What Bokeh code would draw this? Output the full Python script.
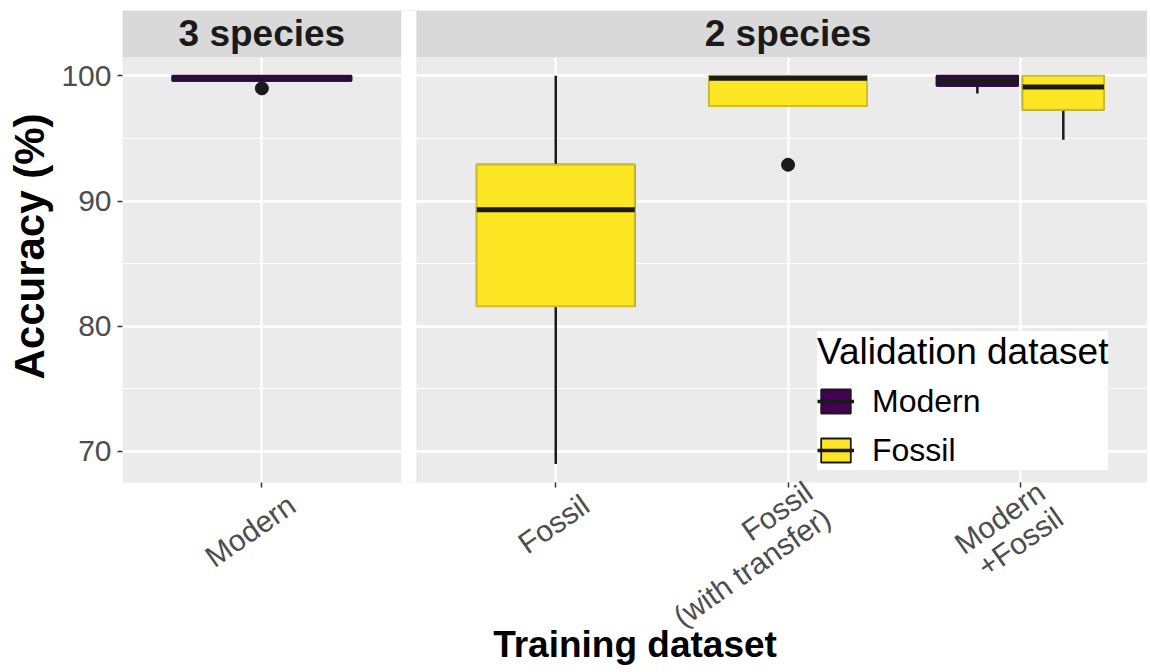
import math
from bokeh.plotting import figure
from bokeh.models import (ColumnDataSource, FixedTicker, BoxAnnotation, Label,
                          Legend, LegendItem, LinearAxis)
from bokeh.embed import file_html
from bokeh.resources import INLINE

# ---------------- data ----------------
panels = ["3 species", "2 species"]
panel_training = [["Modern"], ["Fossil", "Fossil\n(with transfer)", "Modern\n+Fossil"]]

box_panel = ["3 species", "2 species", "2 species", "2 species", "2 species"]
box_training = ["Modern", "Fossil", "Fossil\n(with transfer)", "Modern\n+Fossil", "Modern\n+Fossil"]
box_validation = ["Modern", "Fossil", "Fossil", "Modern", "Fossil"]
box_low = [99.6, 69.0, 97.6, 98.6, 94.9]
box_q1 = [99.6, 81.6, 97.6, 99.2, 97.3]
box_median = [99.8, 89.3, 99.8, 99.6, 99.1]
box_q3 = [100.0, 92.9, 100.0, 100.0, 100.0]
box_high = [100.0, 100.0, 100.0, 100.0, 100.0]

out_panel = ["3 species", "2 species"]
out_training = ["Modern", "Fossil\n(with transfer)"]
out_validation = ["Modern", "Fossil"]
out_value = [99.0, 92.9]

validations = ["Modern", "Fossil"]
y_ticks = [70, 80, 90, 100]
y_minor = [75, 85, 95]

# ---------------- styling / layout constants ----------------
FONT = "Liberation Sans"
fill_col = {"Modern": "#440154", "Fossil": "#FDE725"}
line_col = {"Modern": "#2b0a3d", "Fossil": "#cfbf2c"}
single_width = {"3 species": 0.77, "2 species": 0.68}
dodge_width = 0.35
dodge_offset = 0.185
EXPAND = 0.6
GAP = 0.065
X_START = 0.4
FRAME_W, FRAME_H = 1025, 472
PX_PER_X = 232.3
Y_START, Y_END = 67.52, 105.22
STRIP_BOTTOM = 101.48
PX_PER_Y = FRAME_H / (Y_END - Y_START)
LABEL_SHIFT = 30 / PX_PER_X   # rotated labels sit a little right of their tick

# category positions on a continuous axis (facet-like)
pos = {}
panel_extent = {}
edge = X_START
for pname, cats in zip(panels, panel_training):
    for i, c in enumerate(cats):
        pos[(pname, c)] = edge + EXPAND + i
    end = edge + EXPAND + (len(cats) - 1) + EXPAND
    panel_extent[pname] = (edge, end)
    edge = end + GAP
X_END = X_START + FRAME_W / PX_PER_X

# box x / width (dodged when two validation sets share a training set)
groups = {}
for i in range(len(box_training)):
    groups.setdefault((box_panel[i], box_training[i]), []).append(i)
box_x = [0.0] * len(box_training)
box_w = [0.0] * len(box_training)
for key, idx in groups.items():
    if len(idx) == 1:
        box_x[idx[0]] = pos[key]
        box_w[idx[0]] = single_width[key[0]]
    else:
        n = len(idx)
        for k, i in enumerate(idx):
            box_x[i] = pos[key] + (k - (n - 1) / 2) * 2 * dodge_offset
            box_w[i] = dodge_width

p = figure(frame_width=FRAME_W, frame_height=FRAME_H,
           x_range=(X_START, X_END), y_range=(Y_START, Y_END),
           output_backend="svg", toolbar_location=None,
           min_border_left=122, min_border_top=10, min_border_right=0,
           min_border_bottom=0,
           background_fill_color="#ebebeb", border_fill_color="white",
           outline_line_color=None)

# grid
xt = [pos[k] for k in pos]
p.xgrid.ticker = FixedTicker(ticks=xt)
p.ygrid.ticker = FixedTicker(ticks=y_ticks, minor_ticks=y_minor)
p.grid.grid_line_color = "white"
p.grid.grid_line_width = 2.4
p.ygrid.minor_grid_line_color = "white"
p.ygrid.minor_grid_line_width = 1.2

# strips and panel gap
p.add_layout(BoxAnnotation(bottom=STRIP_BOTTOM, fill_color="#d9d9d9", fill_alpha=1,
                           line_color=None, level="underlay"))
names = list(panel_extent)
for a, b in zip(names[:-1], names[1:]):
    p.add_layout(BoxAnnotation(left=panel_extent[a][1], right=panel_extent[b][0],
                               fill_color="white", fill_alpha=1, line_color=None,
                               level="underlay"))
for pname, cats in zip(panels, panel_training):
    cx = (pos[(pname, cats[0])] + pos[(pname, cats[-1])]) / 2
    p.add_layout(Label(x=cx, y=(STRIP_BOTTOM + Y_END) / 2, text=pname,
                       text_align="center", text_baseline="middle",
                       text_font=FONT, text_font_style="bold",
                       text_font_size="37px", text_color="#1a1a1a"))

# boxes
leg_items = []
for v in validations:
    idx = [i for i in range(len(box_validation)) if box_validation[i] == v]
    # very flat boxes: the median line takes the outline colour (as drawn in the source)
    med_color = ["#1a1a1a" if (box_q3[i] - box_q1[i]) * PX_PER_Y > 8 else line_col[v] for i in idx]
    src = ColumnDataSource(dict(
        x=[box_x[i] for i in idx], w=[box_w[i] for i in idx],
        x0=[box_x[i] - box_w[i] / 2 for i in idx], x1=[box_x[i] + box_w[i] / 2 for i in idx],
        low=[box_low[i] for i in idx], q1=[box_q1[i] for i in idx],
        med=[box_median[i] for i in idx], q3=[box_q3[i] for i in idx],
        high=[box_high[i] for i in idx], mc=med_color))
    # legend-key styling (black outline, as in a boxplot key); hidden under the real boxes
    kb = p.vbar(x="x", width="w", top="q3", bottom="q1", source=src,
                fill_color=fill_col[v], line_color="#1a1a1a", line_width=1.8)
    km = p.segment(x0="x0", x1="x1", y0="med", y1="med", source=src,
                   line_color="#1a1a1a", line_width=3.5)
    leg_items.append(LegendItem(label=v, renderers=[kb, km]))

    p.segment(x0="x", x1="x", y0="q3", y1="high", source=src, line_color="#1a1a1a", line_width=2.5)
    p.segment(x0="x", x1="x", y0="low", y1="q1", source=src, line_color="#1a1a1a", line_width=2.5)
    p.vbar(x="x", width="w", top="q3", bottom="q1", source=src,
           fill_color=fill_col[v], line_color=line_col[v], line_width=2)
    p.segment(x0="x0", x1="x1", y0="med", y1="med", source=src,
              line_color="mc", line_width=5)

ox = [pos[(out_panel[i], out_training[i])] for i in range(len(out_value))]
p.scatter(x=ox, y=out_value, size=13, color="#1a1a1a")

# axes: tick marks on the main x axis, category labels on a second (tickless) axis
p.xaxis.ticker = FixedTicker(ticks=xt)
p.xaxis.major_label_overrides = {x: "" for x in xt}
p.xaxis.major_label_text_font_size = "1px"
p.xaxis.major_label_standoff = 0
p.yaxis.ticker = FixedTicker(ticks=y_ticks)

lab_ticks = [pos[k] + LABEL_SHIFT for k in pos]
lab_axis = LinearAxis(ticker=FixedTicker(ticks=lab_ticks),
                      major_label_overrides={pos[k] + LABEL_SHIFT: k[1] for k in pos},
                      major_label_orientation=math.radians(35),
                      major_tick_in=0, major_tick_out=0, major_label_standoff=14)
p.add_layout(lab_axis, "below")

for ax in (p.xaxis[0], p.yaxis[0], lab_axis):
    ax.axis_line_color = None
    ax.major_tick_in = 0
    ax.minor_tick_line_color = None
    ax.major_label_text_font = FONT
    ax.major_label_text_color = "#4d4d4d"
    ax.axis_label_text_font = FONT
    ax.axis_label_text_font_style = "bold"
    ax.axis_label_text_color = "black"
for ax in (p.xaxis[0], p.yaxis[0]):
    ax.major_tick_out = 5
    ax.major_tick_line_color = "#333333"
    ax.major_tick_line_width = 1.5
lab_axis.major_tick_line_color = None
lab_axis.major_label_text_font_size = "30px"
lab_axis.major_label_text_line_height = 0.95

p.yaxis.major_label_text_font_size = "30px"
p.yaxis.major_label_standoff = 6
p.yaxis.axis_label = "Accuracy (%)"
p.yaxis.axis_label_text_font_size = "42px"
p.yaxis.axis_label_standoff = 5
lab_axis.axis_label = "Training dataset"
lab_axis.axis_label_text_font_size = "37px"
lab_axis.axis_label_standoff = -38

legend = Legend(items=leg_items,
                location=(695, 12), title="Validation dataset",
                title_text_font=FONT, title_text_font_style="normal",
                title_text_font_size="37px", title_text_color="black",
                title_standoff=8,
                label_text_font=FONT, label_text_font_size="32px",
                label_text_color="black",
                glyph_width=37, glyph_height=30, label_standoff=18,
                label_height=40,
                spacing=9, padding=30, margin=0,
                border_line_color=None, background_fill_color="white",
                background_fill_alpha=1)
p.add_layout(legend)

open("out.html", "w").write(file_html(p, INLINE))
